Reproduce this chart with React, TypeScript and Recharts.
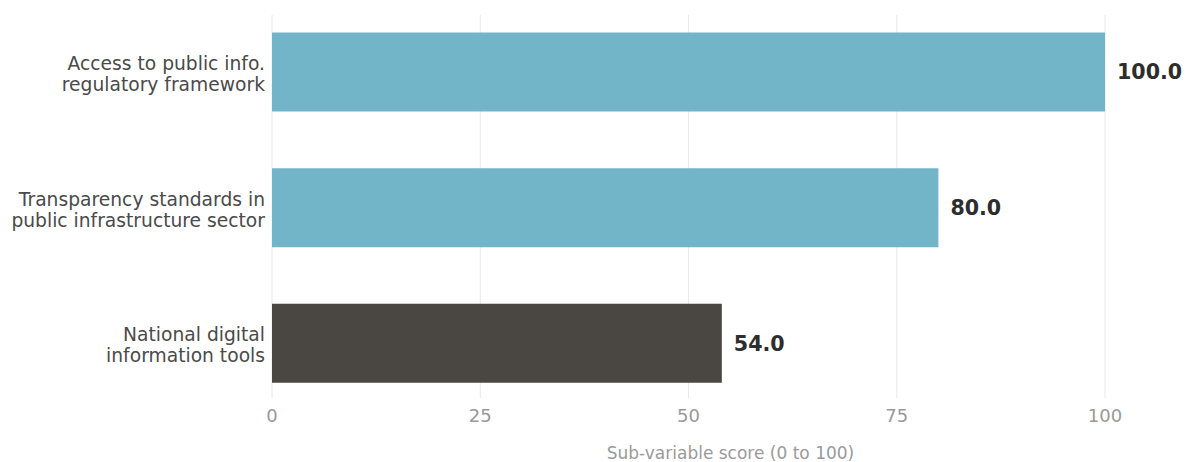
import { BarChart, Bar, XAxis, YAxis, CartesianGrid, Cell, LabelList } from "recharts";

const categories = [
    "Access to public info.\nregulatory framework",
    "Transparency standards in\npublic infrastructure sector",
    "National digital\ninformation tools",
];
const scores = [100, 80, 54];
const barColors = ["#72b5c9", "#72b5c9", "#4a4743"];
const xTicks = [0, 25, 50, 75, 100];

const data = categories.map((name, i) => ({ name, value: scores[i], color: barColors[i] }));

const FONT = "DejaVu Sans, sans-serif";

function CategoryTick(props: any) {
    const { x, y, payload } = props;
    const lines: string[] = String(payload.value).split("\n");
    const lineHeight = 21;
    const startY = y + 2 - ((lines.length - 1) * lineHeight) / 2;
    return (
        <text x={x} y={startY} textAnchor="end" fill="#4a4a4a" fontSize={18.7} fontFamily={FONT}>
            {lines.map((line, i) => (
                <tspan key={i} x={x + 1} y={startY + i * lineHeight} dy="0.35em">
                    {line}
                </tspan>
            ))}
        </text>
    );
}

function GridLine(props: any) {
    const { x1, x2, y1, y2 } = props;
    return <line x1={x1} x2={x2} y1={y1 + 11} y2={y2 - 13} stroke="#e8e8e8" strokeWidth={1} />;
}

export default function App() {
    return (
        <div style={{ position: "absolute", left: 0, top: 0 }}>
            <BarChart
                width={1191}
                height={462}
                data={data}
                layout="vertical"
                margin={{ top: 4, right: 86, bottom: 0, left: 0 }}
                barCategoryGap="21%"
            >
                <CartesianGrid horizontal={false} vertical={<GridLine />} />
                <XAxis
                    type="number"
                    domain={[0, 100]}
                    ticks={xTicks}
                    axisLine={false}
                    tickLine={false}
                    tickSize={0}
                    tickMargin={-2}
                    height={51}
                    tick={{ fill: "#999999", fontSize: 18, fontFamily: FONT }}
                    label={{
                        value: "Sub-variable score (0 to 100)",
                        position: "insideBottom",
                        offset: 3,
                        dx: 42,
                        fill: "#9a9a9a",
                        fontSize: 17,
                        fontFamily: FONT,
                    }}
                />
                <YAxis
                    type="category"
                    dataKey="name"
                    width={272}
                    axisLine={false}
                    tickLine={false}
                    tick={<CategoryTick />}
                />
                <Bar dataKey="value" isAnimationActive={false}>
                    {data.map((d, i) => (
                        <Cell key={i} fill={d.color} />
                    ))}
                    <LabelList
                        dataKey="value"
                        position="right"
                        offset={12}
                        formatter={(v: any) => Number(v).toFixed(1)}
                        fill="#2d2d2d"
                        fontSize={20.6}
                        fontWeight="bold"
                        fontFamily={FONT}
                    />
                </Bar>
            </BarChart>
        </div>
    );
}
